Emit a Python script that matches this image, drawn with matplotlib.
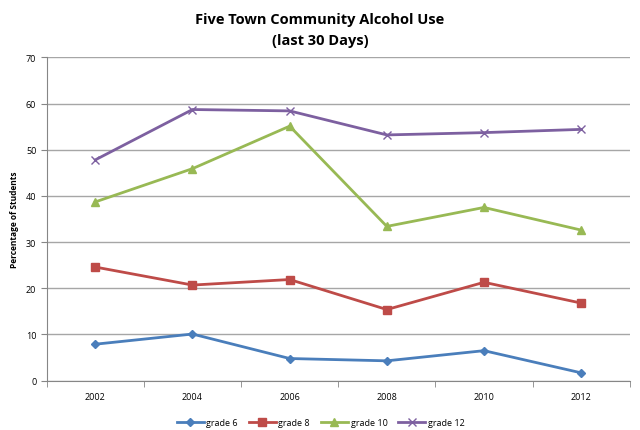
import matplotlib.pyplot as plt
import numpy as np

years = ["2002", "2004", "2006", "2008", "2010", "2012"]
grade6 = [7.9, 10.1, 4.8, 4.3, 6.5, 1.7]
grade8 = [24.6, 20.7, 21.9, 15.4, 21.3, 16.8]
grade10 = [38.7, 45.9, 55.1, 33.4, 37.5, 32.6]
grade12 = [47.8, 58.7, 58.4, 53.2, 53.7, 54.4]

plt.rcParams['font.family'] = ['Open Sans', 'DejaVu Sans']

fig = plt.figure(figsize=(6.4, 4.31), dpi=100)
ax = fig.add_axes([0.073, 0.1144, 0.911, 0.7503])

x = np.arange(len(years))
ax.plot(x, grade6, color='#4A7EBB', marker='D', markersize=4.5, lw=2, label='grade 6')
ax.plot(x, grade8, color='#BE4B48', marker='s', markersize=6, lw=2, label='grade 8')
ax.plot(x, grade10, color='#98B954', marker='^', markersize=6, lw=2, label='grade 10')
ax.plot(x, grade12, color='#7D60A0', marker='x', markersize=6, mew=1, lw=2, label='grade 12')

ax.set_xlim(-0.5, len(years) - 0.5)
ax.set_ylim(0, 70)
ax.set_yticks(range(0, 71, 10))
ax.yaxis.grid(True, color='#a6a6a6', lw=1)
ax.set_axisbelow(True)

ax.set_xticks(x)
ax.set_xticklabels(years)
ax.set_xticks(np.arange(-0.5, len(years)), minor=True)
ax.tick_params(axis='x', which='major', length=0, labelsize=6.5, pad=8)
ax.tick_params(axis='x', which='minor', length=4, color='#868686', direction='out')
ax.tick_params(axis='y', length=4, color='#868686', labelsize=6.5, direction='out')

for s in ['top', 'right']:
    ax.spines[s].set_visible(False)
for s in ['left', 'bottom']:
    ax.spines[s].set_color('#868686')

ax.set_ylabel('Percentage of Students', fontsize=6, fontweight='bold', labelpad=5)

fig.suptitle('Five Town Community Alcohol Use\n(last 30 Days)', fontsize=10.5,
             fontweight='bold', y=0.97, linespacing=1.6)

ax.legend(loc='upper center', bbox_to_anchor=(0.47, -0.09), ncol=4, frameon=False,
          fontsize=6.5, handlelength=3, columnspacing=1.2, handletextpad=0.3)

fig.savefig('out.png', dpi=100)
